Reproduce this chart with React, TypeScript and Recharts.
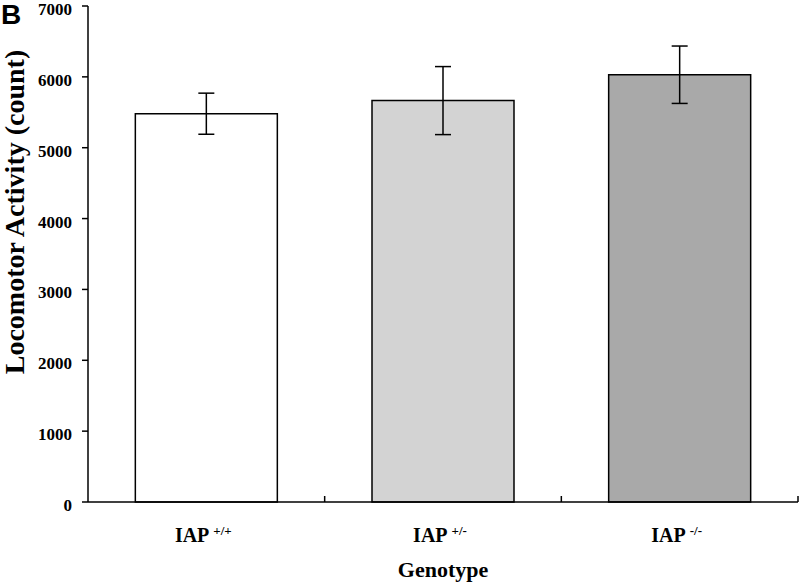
import { Bar, BarChart, Cell, ErrorBar, XAxis, YAxis } from "recharts";

const SERIF = "'Liberation Serif', 'Times New Roman', serif";

const genotypes = ["+/+", "+/-", "-/-"];
const activity = [5480, 5665, 6030];
const activityErr = [290, 480, 405];
const barFills = ["#ffffff", "#d3d3d3", "#a9a9a9"];
const yTicks = [0, 1000, 2000, 3000, 4000, 5000, 6000, 7000];

const data = genotypes.map((g, i) => ({
  genotype: g,
  activity: activity[i],
  err: activityErr[i],
}));

// label under each bar plus the small upward tick at the right edge of its band
function GenotypeTick(props: any) {
  const { x, y, payload } = props;
  const half = payload?.offset ?? 118;
  return (
    <g>
      <line x1={x + half} x2={x + half} y1={y} y2={y - 6} stroke="#000" strokeWidth={1.5} />
      <text x={x - 3} y={y + 40} textAnchor="middle" fontFamily={SERIF} fontWeight="bold" fill="#000">
        <tspan fontSize={20}>IAP</tspan>
        <tspan fontSize={13} dx={4} dy={-7}>
          {payload.value}
        </tspan>
      </text>
    </g>
  );
}

// value labels sit a touch below their tick, as in the original figure
function CountTick(props: any) {
  const { x, y, payload } = props;
  return (
    <text x={x} y={y + 9} textAnchor="end" fontFamily={SERIF} fontWeight="bold" fontSize={17} fill="#000">
      {payload.value}
    </text>
  );
}

export default function App() {
  return (
    <div style={{ position: "absolute", left: 0, top: 0, width: 800, height: 584, background: "#fff" }}>
      <svg width={800} height={584} style={{ position: "absolute", left: 0, top: 0 }}>
        <text x={1} y={24} fontFamily="'Liberation Sans', Arial, sans-serif" fontWeight="bold" fontSize={28} fill="#000">
          B
        </text>
        <text
          transform="translate(24, 212) rotate(-90)"
          textAnchor="middle"
          fontFamily={SERIF}
          fontWeight="bold"
          fontSize={28}
          fill="#000"
        >
          Locomotor Activity (count)
        </text>
        <text x={443} y={577} textAnchor="middle" fontFamily={SERIF} fontWeight="bold" fontSize={22} fill="#000">
          Genotype
        </text>
      </svg>
      <div style={{ position: "absolute", left: 0, top: 0 }}>
        <BarChart
          width={800}
          height={584}
          data={data}
          margin={{ top: 6, right: 2, bottom: 32, left: 0 }}
          barCategoryGap="20%"
        >
          <XAxis
            dataKey="genotype"
            height={50}
            axisLine={{ stroke: "#000", strokeWidth: 1.5 }}
            tickLine={false}
            tickSize={0}
            tickMargin={0}
            tick={<GenotypeTick />}
            interval={0}
          />
          <YAxis
            width={88}
            domain={[0, 7000]}
            ticks={yTicks}
            interval={0}
            axisLine={{ stroke: "#000", strokeWidth: 1.5 }}
            tickLine={{ stroke: "#000", strokeWidth: 1.5 }}
            tickSize={6}
            tickMargin={10}
            tick={<CountTick />}
          />
          <Bar dataKey="activity" stroke="#000" strokeWidth={1.5} isAnimationActive={false}>
            {data.map((d, i) => (
              <Cell key={d.genotype} fill={barFills[i]} />
            ))}
            <ErrorBar dataKey="err" width={8} stroke="#000" strokeWidth={1.5} direction="y" />
          </Bar>
        </BarChart>
      </div>
    </div>
  );
}
